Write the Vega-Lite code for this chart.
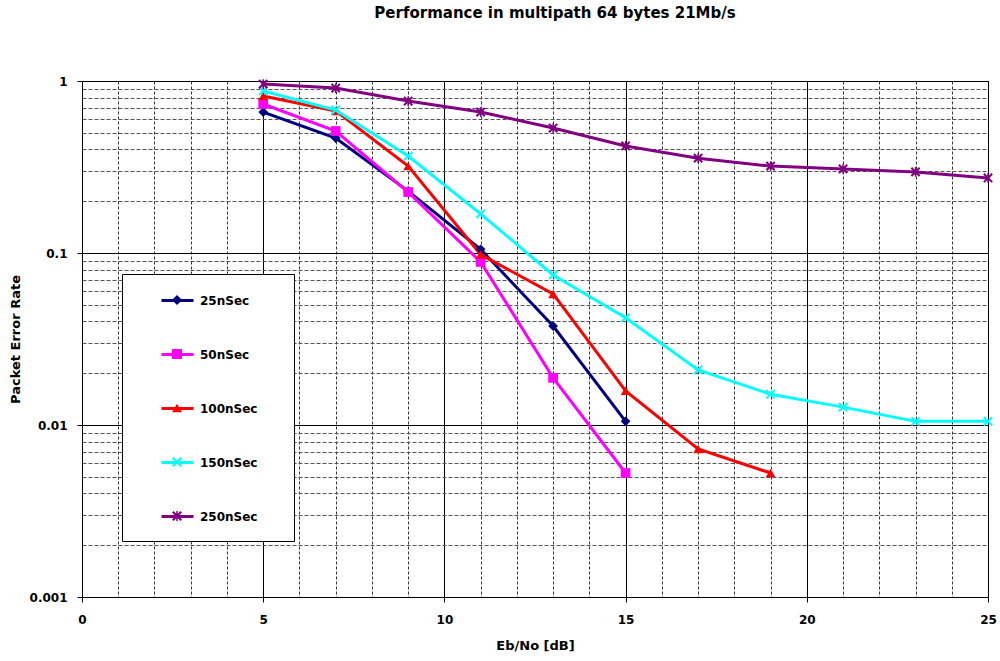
{
  "$schema": "https://vega.github.io/schema/vega-lite/v6.json",
  "width": 906,
  "height": 516,
  "autosize": "none",
  "padding": {"left": 82, "top": 81, "right": 12, "bottom": 64},
  "background": "white",
  "title": {
    "text": "Performance in multipath 64 bytes 21Mb/s",
    "font": "DejaVu Sans",
    "fontSize": 15,
    "fontWeight": "bold",
    "color": "black",
    "anchor": "middle",
    "frame": "group",
    "baseline": "alphabetic",
    "offset": 42,
    "dx": 20
  },
  "config": {
    "view": {"stroke": "black", "strokeWidth": 1},
    "axis": {
      "labelFont": "DejaVu Sans",
      "labelFontWeight": "bold",
      "labelFontSize": 12,
      "labelColor": "black",
      "titleFont": "DejaVu Sans",
      "titleFontWeight": "bold",
      "titleFontSize": 13,
      "titleColor": "black",
      "domainColor": "black",
      "tickColor": "black",
      "labelOverlap": false,
      "labelBound": false,
      "labelFlush": false
    },
    "legend": {
      "orient": "none",
      "labelFont": "DejaVu Sans",
      "labelFontWeight": "bold",
      "labelColor": "black"
    }
  },
  "data": {
    "values": [
      {"ebno": 5, "per": 0.66, "series": "25nSec"},
      {"ebno": 7, "per": 0.466, "series": "25nSec"},
      {"ebno": 9, "per": 0.229, "series": "25nSec"},
      {"ebno": 11, "per": 0.105, "series": "25nSec"},
      {"ebno": 13, "per": 0.0376, "series": "25nSec"},
      {"ebno": 15, "per": 0.0105, "series": "25nSec"},
      {"ebno": 5, "per": 0.735, "series": "50nSec"},
      {"ebno": 7, "per": 0.512, "series": "50nSec"},
      {"ebno": 9, "per": 0.226, "series": "50nSec"},
      {"ebno": 11, "per": 0.0887, "series": "50nSec"},
      {"ebno": 13, "per": 0.0188, "series": "50nSec"},
      {"ebno": 15, "per": 0.00526, "series": "50nSec"},
      {"ebno": 5, "per": 0.818, "series": "100nSec"},
      {"ebno": 7, "per": 0.67, "series": "100nSec"},
      {"ebno": 9, "per": 0.32, "series": "100nSec"},
      {"ebno": 11, "per": 0.098, "series": "100nSec"},
      {"ebno": 13, "per": 0.0578, "series": "100nSec"},
      {"ebno": 15, "per": 0.0158, "series": "100nSec"},
      {"ebno": 17, "per": 0.00725, "series": "100nSec"},
      {"ebno": 19, "per": 0.00526, "series": "100nSec"},
      {"ebno": 5, "per": 0.875, "series": "150nSec"},
      {"ebno": 7, "per": 0.678, "series": "150nSec"},
      {"ebno": 9, "per": 0.366, "series": "150nSec"},
      {"ebno": 11, "per": 0.169, "series": "150nSec"},
      {"ebno": 13, "per": 0.0745, "series": "150nSec"},
      {"ebno": 15, "per": 0.042, "series": "150nSec"},
      {"ebno": 17, "per": 0.0209, "series": "150nSec"},
      {"ebno": 19, "per": 0.0151, "series": "150nSec"},
      {"ebno": 21, "per": 0.0127, "series": "150nSec"},
      {"ebno": 23, "per": 0.0105, "series": "150nSec"},
      {"ebno": 25, "per": 0.0105, "series": "150nSec"},
      {"ebno": 5, "per": 0.96, "series": "250nSec"},
      {"ebno": 7, "per": 0.91, "series": "250nSec"},
      {"ebno": 9, "per": 0.765, "series": "250nSec"},
      {"ebno": 11, "per": 0.66, "series": "250nSec"},
      {"ebno": 13, "per": 0.533, "series": "250nSec"},
      {"ebno": 15, "per": 0.419, "series": "250nSec"},
      {"ebno": 17, "per": 0.356, "series": "250nSec"},
      {"ebno": 19, "per": 0.32, "series": "250nSec"},
      {"ebno": 21, "per": 0.308, "series": "250nSec"},
      {"ebno": 23, "per": 0.296, "series": "250nSec"},
      {"ebno": 25, "per": 0.273, "series": "250nSec"}
    ]
  },
  "encoding": {
    "x": {
      "field": "ebno",
      "type": "quantitative",
      "scale": {"domain": [0, 25], "nice": false, "zero": false},
      "axis": {
        "title": "Eb/No [dB]",
        "values": [0,1,2,3,4,5,6,7,8,9,10,11,12,13,14,15,16,17,18,19,20,21,22,23,24,25],
        "labelExpr": "datum.value % 5 === 0 ? datum.label : ''",
        "grid": true,
        "gridColor": {"condition": {"test": "datum.value % 5 === 0", "value": "black"}, "value": "#333333"},
        "gridWidth": 1,
        "gridDash": {"condition": {"test": "datum.value % 5 === 0", "value": []}, "value": [3, 2]},
        "tickSize": 5,
        "tickOpacity": {"condition": {"test": "datum.value % 5 === 0", "value": 1}, "value": 0},
        "labelPadding": 12,
        "titlePadding": 14
      }
    },
    "y": {
      "field": "per",
      "type": "quantitative",
      "scale": {"type": "log", "domain": [0.001, 1], "nice": false},
      "axis": {
        "title": "Packet Error Rate",
        "values": [0.001,0.002,0.003,0.004,0.005,0.006,0.007,0.008,0.009,0.01,0.02,0.03,0.04,0.05,0.06,0.07,0.08,0.09,0.1,0.2,0.3,0.4,0.5,0.6,0.7,0.8,0.9,1],
        "format": "~g",
        "labelExpr": "abs(log(datum.value)/LN10 - round(log(datum.value)/LN10)) < 0.001 ? datum.label : ''",
        "grid": true,
        "gridWidth": 1,
        "gridColor": {"condition": {"test": "abs(log(datum.value)/LN10 - round(log(datum.value)/LN10)) < 0.001", "value": "black"}, "value": "#555555"},
        "gridDash": {"condition": {"test": "abs(log(datum.value)/LN10 - round(log(datum.value)/LN10)) < 0.001", "value": []}, "value": [4, 2]},
        "tickSize": 5,
        "tickOpacity": {"condition": {"test": "abs(log(datum.value)/LN10 - round(log(datum.value)/LN10)) < 0.001", "value": 1}, "value": 0},
        "labelPadding": 10,
        "titlePadding": 7
      }
    }
  },
  "layer": [
    {
      "mark": {"type": "line", "strokeWidth": 3, "clip": false},
      "encoding": {
        "stroke": {
          "field": "series",
          "type": "nominal",
          "scale": {
            "domain": ["25nSec", "50nSec", "100nSec", "150nSec", "250nSec", "zz"],
            "range": ["#000080", "#FF00FF", "#FF0000", "#00FFFF", "#800080", "transparent"]
          },
          "legend": {
            "title": null,
            "orient": "none",
            "values": ["25nSec", "50nSec", "100nSec", "150nSec", "250nSec"],
            "legendX": 78,
            "legendY": 202,
            "zindex": 2,
            "padding": 0,
            "symbolType": "stroke",
            "symbolSize": 1024,
            "symbolStrokeWidth": 3,
            "symbolOffset": 0,
            "labelOffset": 5,
            "rowPadding": 30,
            "labelFontSize": 12,
            "strokeColor": "transparent",
            "fillColor": "transparent"
          }
        }
      }
    },
    {
      "mark": {"type": "point", "filled": true, "opacity": 1, "size": 95, "strokeWidth": 0, "clip": false},
      "encoding": {
        "color": {
          "field": "series",
          "type": "nominal",
          "scale": {
            "domain": ["25nSec", "50nSec", "100nSec", "150nSec", "250nSec"],
            "range": ["#000080", "#FF00FF", "#FF0000", "#00FFFF", "#800080"]
          },
          "legend": {
            "title": null,
            "orient": "none",
            "legendX": 40,
            "legendY": 193,
            "zindex": 1,
            "padding": 20,
            "symbolSize": 100,
            "symbolOffset": 29,
            "labelOffset": 91,
            "labelExpr": "''",
            "rowPadding": 43,
            "labelFontSize": 8,
            "labelOpacity": 0,
            "strokeColor": "black",
            "fillColor": "white"
          }
        },
        "shape": {
          "field": "series",
          "type": "nominal",
          "scale": {
            "domain": ["25nSec", "50nSec", "100nSec", "150nSec", "250nSec"],
            "range": [
              "diamond",
              "square",
              "triangle-up",
              "M-1,-0.7L-0.7,-1L0,-0.3L0.7,-1L1,-0.7L0.3,0L1,0.7L0.7,1L0,0.3L-0.7,1L-1,0.7L-0.3,0Z",
              "M-1,-0.7L-0.7,-1L0,-0.3L0.7,-1L1,-0.7L0.3,0L1,0.7L0.7,1L0,0.3L-0.7,1L-1,0.7L-0.3,0Z M-0.15,-1H0.15V1H-0.15Z"
            ]
          },
          "legend": {
            "title": null,
            "orient": "none",
            "legendX": 40,
            "legendY": 193,
            "zindex": 1,
            "padding": 20,
            "symbolSize": 100,
            "symbolOffset": 29,
            "labelOffset": 91,
            "labelExpr": "''",
            "rowPadding": 43,
            "labelFontSize": 8,
            "labelOpacity": 0,
            "strokeColor": "black",
            "fillColor": "white"
          }
        }
      }
    }
  ]
}
